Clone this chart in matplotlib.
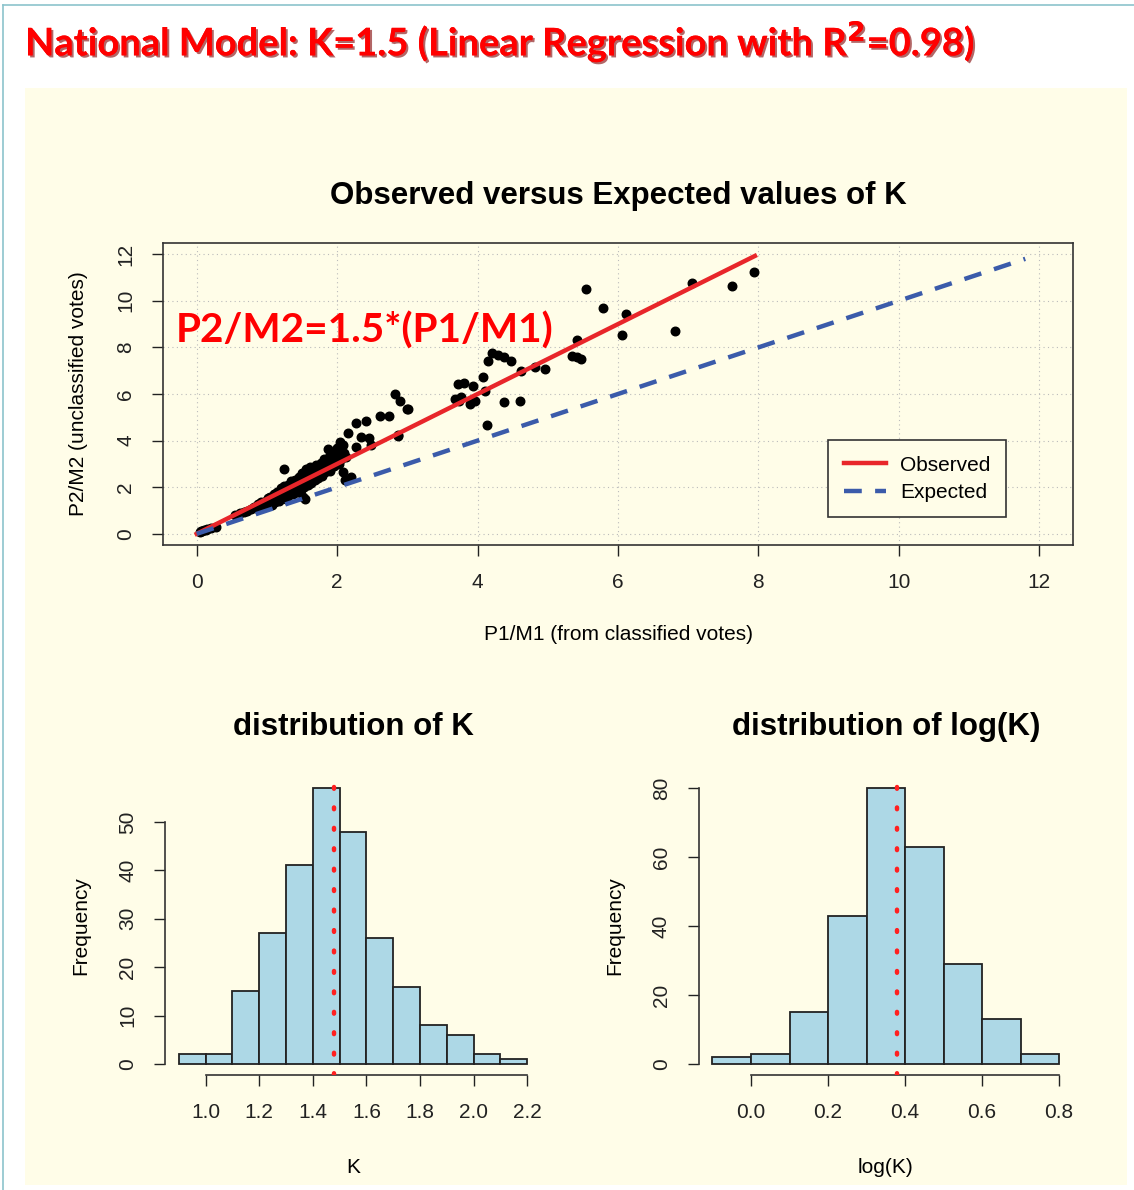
import numpy as np
import matplotlib.pyplot as plt
import matplotlib.patheffects as pe
from matplotlib.patches import Rectangle
from matplotlib.lines import Line2D

plt.rcParams['font.family'] = ['Liberation Sans', 'DejaVu Sans']

# points: P1/M1 (x) and P2/M2 (y)
p1m1 = [0.05, 0.06, 0.08, 0.10, 0.13, 0.15, 0.20, 0.28,
        0.55, 0.62, 0.68, 0.72, 0.78, 0.82, 0.85, 0.88, 0.90, 0.92, 0.95, 0.97,
        1.00, 1.00, 1.02, 1.05, 1.05, 1.07, 1.08, 1.10, 1.10, 1.12, 1.13, 1.15,
        1.15, 1.17, 1.18, 1.20, 1.20, 1.22, 1.23, 1.25, 1.25, 1.27, 1.28, 1.30,
        1.30, 1.32, 1.33, 1.35, 1.35, 1.37, 1.38, 1.40, 1.40, 1.42, 1.43, 1.45,
        1.45, 1.47, 1.48, 1.50, 1.50, 1.52, 1.53, 1.55, 1.55, 1.57, 1.58, 1.60,
        1.60, 1.62, 1.63, 1.65, 1.65, 1.67, 1.68, 1.70, 1.70, 1.72, 1.73, 1.75,
        1.75, 1.77, 1.78, 1.80, 1.80, 1.82, 1.83, 1.85, 1.85, 1.87, 1.88, 1.90,
        1.90, 1.92, 1.93, 1.95, 1.95, 1.97, 1.98, 2.00, 2.00, 2.02, 2.05, 2.05,
        2.08, 2.10, 2.12, 1.25, 1.54, 1.51, 1.87, 2.04, 2.15, 2.27, 2.41, 2.61,
        2.74, 2.83, 2.89, 3.00, 2.87, 2.27, 2.34, 2.46, 2.48, 2.08, 2.11, 2.20,
        2.87, 3.01, 3.68, 3.72, 3.73, 3.77, 3.80, 3.89, 3.94, 3.97, 4.08, 4.11,
        4.13, 4.15, 4.21, 4.29, 4.37, 4.37, 4.48, 4.61, 4.62, 4.82, 4.96, 5.34,
        5.41, 5.42, 5.48, 5.54, 5.78, 6.05, 6.12, 6.81, 7.06, 7.62, 7.94]
p2m2 = [0.08, 0.10, 0.12, 0.15, 0.18, 0.20, 0.25, 0.30,
        0.80, 0.88, 0.92, 0.98, 1.05, 1.15, 1.10, 1.28, 1.20, 1.35, 1.30, 1.18,
        1.45, 1.30, 1.52, 1.40, 1.60, 1.25, 1.55, 1.70, 1.45, 1.35, 1.62, 1.80,
        1.50, 1.40, 1.72, 1.95, 1.65, 1.55, 1.80, 2.05, 1.70, 1.50, 1.90, 2.10,
        1.80, 1.65, 2.00, 2.25, 1.85, 1.70, 2.05, 2.30, 1.95, 2.15, 1.80, 2.45,
        2.05, 2.25, 1.90, 2.60, 2.15, 2.35, 2.00, 2.80, 2.30, 2.50, 2.10, 2.65,
        2.35, 2.85, 2.20, 2.55, 2.40, 2.75, 2.30, 2.95, 2.55, 2.70, 2.40, 2.85,
        2.60, 3.05, 2.50, 2.75, 2.95, 3.20, 2.65, 2.90, 3.10, 2.80, 3.30, 3.00,
        2.70, 3.40, 3.15, 2.90, 3.50, 3.25, 3.05, 3.70, 3.35, 3.00, 3.55, 3.20,
        3.80, 3.45, 3.30, 2.76, 1.50, 1.60, 3.63, 3.93, 4.32, 4.75, 4.82, 5.04,
        5.07, 5.98, 5.69, 5.36, 4.20, 3.74, 4.15, 4.10, 3.81, 2.66, 2.30, 2.44,
        4.25, 5.36, 5.79, 6.44, 5.69, 5.88, 6.48, 5.58, 6.34, 5.69, 6.73, 6.12,
        4.68, 7.42, 7.76, 7.68, 7.60, 5.65, 7.42, 5.72, 6.99, 7.16, 7.09, 7.64,
        7.57, 8.33, 7.50, 10.50, 9.71, 8.54, 9.45, 8.72, 10.75, 10.62, 11.22]

fit_slope = 1.5
fit_x = [0, 7.95]
expected_x = [0, 11.8]

k_edges = [0.9, 1.0, 1.1, 1.2, 1.3, 1.4, 1.5, 1.6, 1.7, 1.8, 1.9, 2.0, 2.1, 2.2]
k_counts = [2, 2, 15, 27, 41, 57, 48, 26, 16, 8, 6, 2, 1]
k_mid = 1.48

logk_edges = [-0.1, 0.0, 0.1, 0.2, 0.3, 0.4, 0.5, 0.6, 0.7, 0.8]
logk_counts = [2, 3, 15, 43, 80, 63, 29, 13, 3]
logk_mid = 0.38

W, H = 1134, 1190
cream = '#FFFDE8'
fig = plt.figure(figsize=(W / 100, H / 100), dpi=100, facecolor='white')

# slide panel and frame
fig.patches.append(Rectangle((25 / W, 1 - 1185 / H), 1102 / W, 1097 / H,
                             transform=fig.transFigure, facecolor=cream,
                             edgecolor='none', zorder=-10))
fig.add_artist(Line2D([3 / W, 3 / W], [0, 1 - 5 / H], color='#8CC4CC', lw=1.2))
fig.add_artist(Line2D([3 / W, 1], [1 - 5 / H, 1 - 5 / H], color='#8CC4CC', lw=1.2))

fig.text(25 / W, 1 - 42 / H, 'National Model: K=1.5 (Linear Regression with R$^\\mathbf{2}$=0.98)',
         color='#FF0000', fontsize=27.4, fontweight='bold', family=['Lato', 'DejaVu Sans'],
         va='center', ha='left',
         path_effects=[pe.withSimplePatchShadow(offset=(1.5, -1.5), shadow_rgbFace='#800000', alpha=0.6),
                       pe.Normal()])

tick_kw = dict(direction='out', length=8, width=1, labelsize=15, colors='#222222')

# ---- scatter: observed vs expected
ax = fig.add_axes([163 / W, 1 - 545 / H, 910 / W, 302 / H])
ax.set_facecolor(cream)
ax.set_xlim(-0.48, 12.48)
ax.set_ylim(-0.48, 12.48)
ax.set_xticks(range(0, 13, 2))
ax.set_yticks(range(0, 13, 2))
ax.grid(True, color='#BBBBBB', linestyle=(0, (1, 3)), linewidth=0.8)
ax.set_axisbelow(True)
for s in ax.spines.values():
    s.set_color('#333333')
    s.set_linewidth(1.2)
ax.tick_params(**tick_kw, pad=12)
for lab in ax.get_yticklabels():
    lab.set_rotation(90)
    lab.set_va('center')

ax.scatter(p1m1, p2m2, s=38, color='black', zorder=3)
ax.plot(fit_x, [fit_slope * v for v in fit_x], color='#E8262A', lw=3.2, zorder=4, label='Observed')
ax.plot(expected_x, expected_x, color='#3B5BAA', lw=3.2, ls=(0, (4, 3)), zorder=4, label='Expected')
ax.set_title('Observed versus Expected values of K', fontsize=22.5, fontweight='bold', pad=28)
ax.set_xlabel('P1/M1 (from classified votes)', fontsize=15, labelpad=24)
ax.set_ylabel('P2/M2 (unclassified votes)', fontsize=15, labelpad=20)
ax.text(-0.3, 8.7, 'P2/M2=1.5*(P1/M1)', color='#FF0000', fontsize=29.2, fontweight='bold',
        family=['Lato', 'DejaVu Sans'], va='center', ha='left', zorder=5)
leg = ax.legend(loc='upper left', bbox_to_anchor=(0.731, 0.348), borderaxespad=0,
                fancybox=False, edgecolor='#333333', facecolor=cream, framealpha=1,
                fontsize=15, handlelength=2.0, borderpad=0.75, labelspacing=0.4,
                handletextpad=0.7)
leg.get_frame().set_linewidth(1.2)


def hist_panel(rect, edges, counts, mid, title, xlabel, xticks, xtlabels, yticks, ylimtop):
    a = fig.add_axes(rect)
    a.set_facecolor(cream)
    a.hist(edges[:-1], bins=edges, weights=counts, color='#ADD8E6',
           edgecolor='#222222', linewidth=1.3)
    span = edges[-1] - edges[0]
    a.set_xlim(edges[0] - 0.04 * span, edges[-1] + 0.04 * span)
    a.set_ylim(-0.04 * ylimtop, ylimtop * 1.04)
    a.axvline(mid, color='#FF2020', lw=3.2, ls=(0, (0.4, 4.2)), dash_capstyle='round', zorder=3)
    for side in ('top', 'right'):
        a.spines[side].set_visible(False)
    a.spines['left'].set_bounds(yticks[0], yticks[-1])
    a.spines['bottom'].set_bounds(xticks[0], xticks[-1])
    for side in ('left', 'bottom'):
        a.spines[side].set_color('#333333')
        a.spines[side].set_linewidth(1.2)
    a.set_xticks(xticks)
    a.set_xticklabels(xtlabels)
    a.set_yticks(yticks)
    a.tick_params(**tick_kw, pad=12)
    for lab in a.get_yticklabels():
        lab.set_rotation(90)
        lab.set_va('center')
    a.set_title(title, fontsize=22.5, fontweight='bold', pad=30)
    a.set_xlabel(xlabel, fontsize=15, labelpad=26)
    a.set_ylabel('Frequency', fontsize=15, labelpad=20)
    return a


hist_panel([165 / W, 1 - 1075 / H, 376 / W, 298 / H], k_edges, k_counts, k_mid,
           'distribution of K', 'K',
           [1.0, 1.2, 1.4, 1.6, 1.8, 2.0, 2.2], ['1.0', '1.2', '1.4', '1.6', '1.8', '2.0', '2.2'],
           [0, 10, 20, 30, 40, 50], 57)
hist_panel([698.6 / W, 1 - 1075 / H, 374.4 / W, 298 / H], logk_edges, logk_counts, logk_mid,
           'distribution of log(K)', 'log(K)',
           [0.0, 0.2, 0.4, 0.6, 0.8], ['0.0', '0.2', '0.4', '0.6', '0.8'],
           [0, 20, 40, 60, 80], 80)

fig.savefig('out.png', dpi=100, facecolor='white')
